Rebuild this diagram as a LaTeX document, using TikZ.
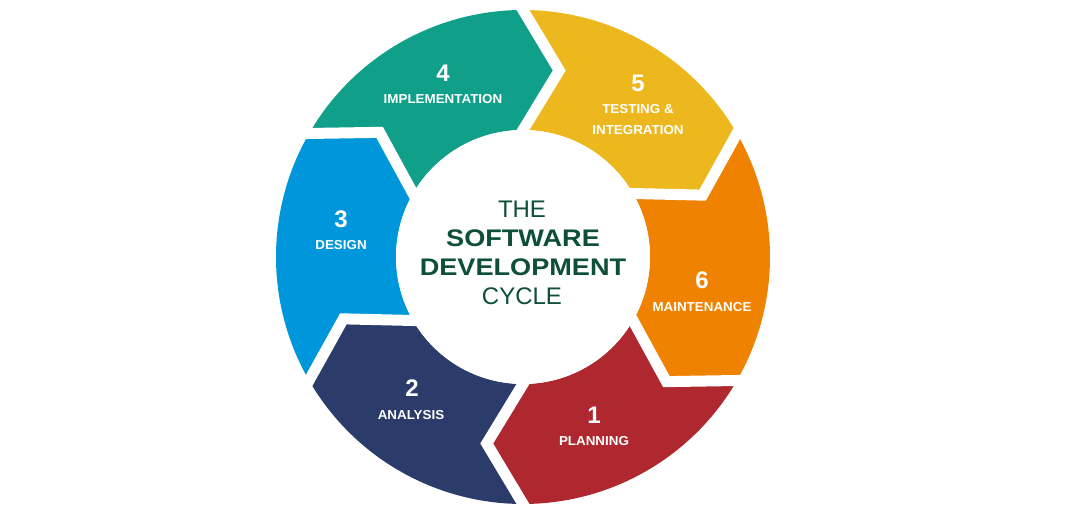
\documentclass[tikz,border=0pt]{standalone}
\usepackage{fontspec}
\setmainfont{Liberation Sans}
\definecolor{cT}{HTML}{10A08A}
\definecolor{cY}{HTML}{ECB81E}
\definecolor{cO}{HTML}{EF8200}
\definecolor{cR}{HTML}{B0282F}
\definecolor{cN}{HTML}{2B3C6B}
\definecolor{cB}{HTML}{0096DB}
\definecolor{cG}{HTML}{0E4F3C}
\tikzset{
  num/.style={text=white, inner sep=0pt, font=\fontsize{24}{24}\selectfont\bfseries},
  lbl/.style={text=white, inner sep=0pt, xscale=1.03, font=\fontsize{13}{15}\selectfont\bfseries},
  ctr/.style={text=cG, inner sep=0pt, font=\fontsize{24}{24}\selectfont},
  ctrb/.style={text=cG, inner sep=0pt, xscale=1.13, font=\fontsize{24}{24}\selectfont\bfseries},
  gap/.style={draw=white, line width=11pt, line join=miter, line cap=rect}
}
\begin{document}
\begin{tikzpicture}[x=1pt,y=1pt]
\useasboundingbox (0,0) rectangle (1080,516);
\fill[white] (0,0) rectangle (1080,516);
\begin{scope}[shift={(523,259)}]
  \foreach \a/\b/\c in {150/90/cT, 90/30/cY, 30/-30/cO, -30/-90/cR, -90/-150/cN, -150/-210/cB}
    \fill[\c] (\a:247) arc[start angle=\a, end angle=\b, radius=247]
      -- ({\b-11}:190) -- (\b:127) arc[start angle=\b, end angle=\a, radius=127]
      -- ({\a-11}:190) -- cycle;
  \foreach \t in {90,30,-30,-90,-150,150}
    \draw[gap] (\t:247) -- ({\t-11}:190) -- (\t:127);
  \fill[white] (0,0) circle[radius=127];
\end{scope}
% center title
\node[ctr]  (the)  at (522,307) {THE};
\node[ctrb] (soft) at (523,278) {SOFTWARE};
\node[ctrb] (dev)  at (523,249) {DEVELOPMENT};
\node[ctr]  (cyc)  at (522,220) {CYCLE};
% labels
\node[num] (n4) at (443,443) {4};
\node[lbl] (l4) at (443,417) {IMPLEMENTATION};
\node[num] (n5) at (638,433) {5};
\node[lbl] (l5) at (638,407) {TESTING \&};
\node[lbl] (l5b) at (638,386) {INTEGRATION};
\node[num] (n3) at (341,297) {3};
\node[lbl] (l3) at (341,271) {DESIGN};
\node[num] (n6) at (702,236) {6};
\node[lbl] (l6) at (702,209) {MAINTENANCE};
\node[num] (n2) at (412,128) {2};
\node[lbl] (l2) at (411,101) {ANALYSIS};
\node[num] (n1) at (594,101) {1};
\node[lbl] (l1) at (594,75) {PLANNING};
\end{tikzpicture}
\end{document}
